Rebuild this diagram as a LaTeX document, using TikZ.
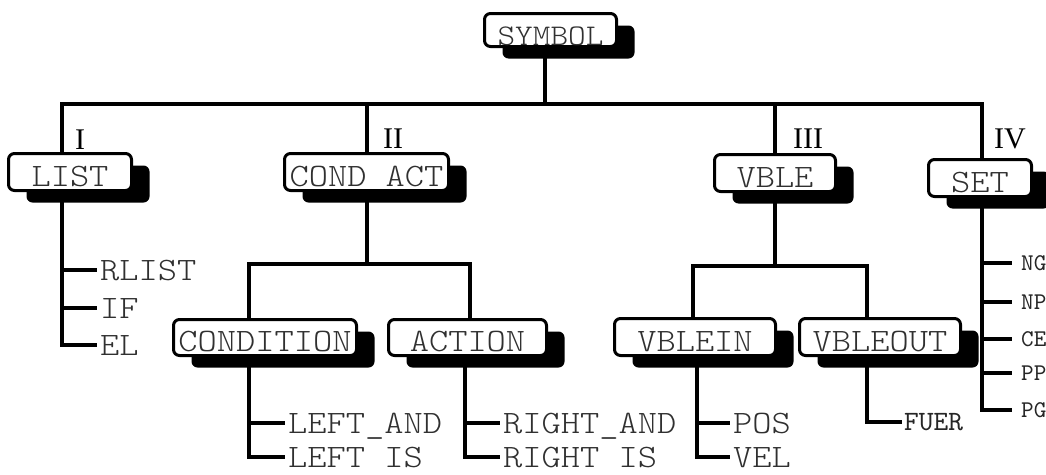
\documentclass[tikz,border=0pt]{standalone}
\usepackage{fontspec}
\setmainfont{Liberation Serif}
\newfontfamily\typewriter{lmmonolt10-regular.otf}[FakeStretch=1.12]
\newfontfamily\smalltype{lmmono10-regular.otf}
\usetikzlibrary{shadows}
\definecolor{inkgray}{HTML}{303030}

\begin{document}
\begin{tikzpicture}[x=1pt,y=-1pt,
  box/.style={draw, line width=3pt, rounded corners=6pt, fill=white, inner sep=0pt,
    minimum height=37pt, text height=28pt, text depth=0pt,
    font=\typewriter\fontsize{32.7}{33}\selectfont, text=inkgray,
    drop shadow={shadow xshift=18pt, shadow yshift=-12pt, fill=black, opacity=1}},
  conn/.style={line width=4pt},
  leaf/.style={anchor=west, inner xsep=3pt, inner ysep=0pt, text height=20pt, text depth=0pt,
    font=\typewriter\fontsize{32.7}{33}\selectfont, text=inkgray},
  smallleaf/.style={anchor=west, inner xsep=9pt, inner ysep=0pt, text height=15pt, text depth=0pt,
    font=\smalltype\fontsize{24}{24}\selectfont, text=black!85},
  fuerleaf/.style={anchor=west, inner xsep=2pt, inner ysep=0pt, text height=17pt, text depth=0pt,
    font=\smalltype\fontsize{28}{28}\selectfont, text=black!85},
  numeral/.style={inner sep=0pt, text height=20pt, text depth=0pt,
    font=\fontsize{30}{30}\selectfont, text=black}]

\useasboundingbox (0,0) rectangle (1046,474);

% boxes
\node[box, minimum width=132pt, minimum height=33pt, text height=31pt,
      font=\typewriter\fontsize{30}{30}\selectfont] (symbol) at (550.5,30) {SYMBOL};
\node[box, minimum width=123pt] (list)    at (70,172)   {LIST};
\node[box, minimum width=164pt] (condact) at (366.5,172) {COND ACT};
\node[box, minimum width=121pt] (vble)    at (775,173)  {VBLE};
\node[box, minimum width=103pt] (set)     at (980,178)  {SET};
\node[box, minimum width=183pt, minimum height=36pt] (condition) at (265,337.5) {CONDITION};
\node[box, minimum width=158pt, minimum height=36pt] (action)    at (467.5,337.5) {ACTION};
\node[box, minimum width=161pt] (vblein)  at (695,337)  {VBLEIN};
\node[box, minimum width=161pt] (vbleout) at (880,337)  {VBLEOUT};

% roman numerals
\node[numeral] (nI)   at (80,139)   {I};
\node[numeral] (nII)  at (393,138)  {II};
\node[numeral] (nIII) at (808,138)  {III};
\node[numeral] (nIV)  at (1010,138) {IV};

% leaves
\node[leaf] (rlist) at (97,270) {RLIST};
\node[leaf] (iff)   at (97,308) {IF};
\node[leaf] (el)    at (97,345) {EL};
\node[leaf] (leftand)  at (285,423) {LEFT\_AND};
\node[leaf] (leftis)   at (285,457) {LEFT IS};
\node[leaf] (rightand) at (500,423) {RIGHT\_AND};
\node[leaf] (rightis)  at (500,457) {RIGHT IS};
\node[leaf] (pos) at (730,423) {POS};
\node[leaf] (vel) at (730,457) {VEL};
\node[fuerleaf] (fuer) at (902,422) {FUER};
\node[smallleaf] (ng) at (1012,263) {NG};
\node[smallleaf] (np) at (1012,302) {NP};
\node[smallleaf] (ce) at (1012,339) {CE};
\node[smallleaf] (pp) at (1012,373) {PP};
\node[smallleaf] (pg) at (1012,410) {PG};

% junction points
\coordinate (s0) at (545,104);
\coordinate (j1) at (62,104);
\coordinate (j2) at (367,104);
\coordinate (j3) at (775,104);
\coordinate (j4) at (982,104);
\coordinate (c0) at (367,264);
\coordinate (c1) at (249,264);
\coordinate (c2) at (470,264);
\coordinate (a1) at (465,400);
\coordinate (v0) at (775,266);
\coordinate (v1) at (693,266);
\coordinate (v2) at (867,266);
\coordinate (v3) at (697,400);

% top level bus
\draw[conn] (symbol.south -| s0) -- (s0);
\draw[conn] (j1 |- list.north) -- (j1) -- (j4) -- (j4 |- set.north);
\draw[conn] (j2) -- (j2 |- condact.north);
\draw[conn] (j3) -- (j3 |- vble.north);

% LIST branch
\draw[conn] (list.south -| j1) |- (el.west);
\draw[conn] (j1 |- rlist.west) -- (rlist.west);
\draw[conn] (j1 |- iff.west) -- (iff.west);

% COND ACT branch
\draw[conn] (condact.south -| c0) -- (c0);
\draw[conn] (c1 |- condition.north) -- (c1) -- (c2) -- (c2 |- action.north);
\draw[conn] (condition.south -| c1) |- (leftis.west);
\draw[conn] (c1 |- leftand.west) -- (leftand.west);
\draw[conn] (action.south -| a1) |- (rightis.west);
\draw[conn] (a1 |- rightand.west) -- (rightand.west);

% VBLE branch
\draw[conn] (vble.south -| v0) -- (v0);
\draw[conn] (v1 |- vblein.north) -- (v1) -- (v2) -- (v2 |- vbleout.north);
\draw[conn] (vblein.south -| v3) |- (vel.west);
\draw[conn] (v3 |- pos.west) -- (pos.west);
\draw[conn] (vbleout.south -| v2) |- (fuer.west);

% SET branch
\draw[conn] (set.south -| j4) |- (pg.west);
\foreach \leafname in {ng,np,ce,pp}
  \draw[conn] (j4 |- \leafname.west) -- (\leafname.west);

\end{tikzpicture}
\end{document}
